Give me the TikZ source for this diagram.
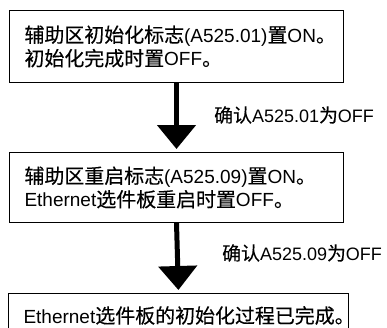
\documentclass[tikz,border=0pt]{standalone}
\usepackage{fontspec}
\setmainfont{Liberation Sans}
\newfontfamily\cjk[Scale=1.05,FakeBold=0.3]{Noto Sans CJK SC}
\newcommand\zh[1]{{\cjk #1}}
\usetikzlibrary{arrows.meta}

\tikzset{
stepbox/.style={draw,line width=1pt,anchor=north west,align=left,
  inner xsep=15pt,inner ysep=0pt,font=\fontsize{19}{23.5}\selectfont},
bigarrow/.style={line width=5pt,-{Triangle[width=38pt,length=24pt]},shorten >=3pt},
checklabel/.style={anchor=west,inner sep=0pt,font=\fontsize{18}{21}\selectfont}
}

\begin{document}
\begin{tikzpicture}[x=1pt,y=-1pt]

\clip (0,0) rectangle (387,327);

% Boxes
\node[stepbox,text width=304pt,minimum width=334pt,minimum height=72pt] (init) at (9,10)
{\zh{辅助区初始化标志}(A525.01)\zh{置}ON\zh{。}\\\zh{初始化完成时置}OFF\zh{。}};

\node[stepbox,text width=304pt,minimum width=334pt,minimum height=70pt] (restart) at (9,152)
{\zh{辅助区重启标志}(A525.09)\zh{置}ON\zh{。}\\Ethernet\zh{选件板重启时置}OFF\zh{。}};

\node[stepbox,text width=310pt,minimum width=340pt,minimum height=44pt] (done) at (8,293)
{Ethernet\zh{选件板的初始化过程已完成。}};

% Arrows
\draw[bigarrow] (init.south) -- (restart.north);
\draw[bigarrow] (restart.south) -- (done.north);

\node[checklabel] (check1) at (214,115) {\zh{确认}A525.01\zh{为}OFF};
\node[checklabel] (check2) at (222,253) {\zh{确认}A525.09\zh{为}OFF};

\end{tikzpicture}
\end{document}
